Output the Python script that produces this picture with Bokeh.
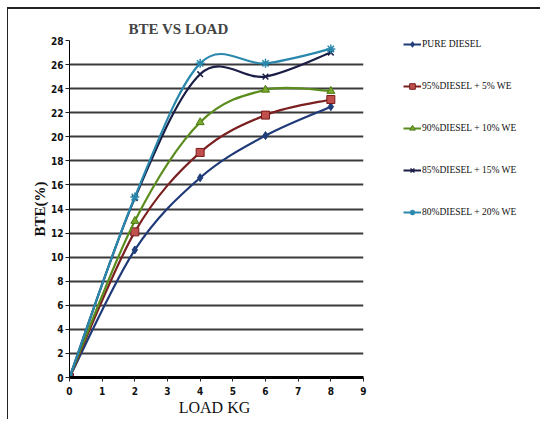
from bokeh.plotting import figure
from bokeh.layouts import row
from bokeh.models import FixedTicker, Legend, LegendItem
from bokeh.embed import file_html
from bokeh.resources import INLINE
import numpy as np

loads = [0, 2, 4, 6, 8]
pure_diesel = [0, 10.6, 16.6, 20.1, 22.5]
d95_we5 = [0, 12.1, 18.7, 21.8, 23.1]
d90_we10 = [0, 13.0, 21.2, 23.9, 23.8]
d85_we15 = [0, 14.9, 25.2, 25.0, 27.0]
d80_we20 = [0, 15.0, 26.1, 26.1, 27.3]
series_names = ["PURE DIESEL", "95%DIESEL + 5% WE", "90%DIESEL + 10% WE",
                "85%DIESEL + 15% WE", "80%DIESEL + 20% WE"]
y_ticks = list(range(0, 29, 2))
x_ticks = list(range(0, 10))

p = figure(width=360, height=410, output_backend="svg", toolbar_location=None,
           x_range=(0, 9), y_range=(0, 28),
           min_border_left=61, min_border_right=5, min_border_top=31, min_border_bottom=42)
p.outline_line_color = None
p.background_fill_color = "white"

p.title.text = "BTE VS LOAD"
p.title.text_font = "Liberation Serif"
p.title.text_font_size = "15px"
p.title.text_font_style = "bold"
p.title.align = "left"
p.title.offset = 59
p.title.standoff = 7

p.xgrid.grid_line_color = None
p.ygrid.grid_line_color = "#3a3a3a"
p.ygrid.grid_line_width = 2
p.yaxis.ticker = FixedTicker(ticks=y_ticks)
p.xaxis.ticker = FixedTicker(ticks=x_ticks)
for ax in (p.xaxis[0], p.yaxis[0]):
    ax.major_label_text_font = "Liberation Sans Narrow, DejaVu Sans Condensed"
    ax.major_label_text_font_style = "bold"
    ax.major_label_text_font_size = "10px"
    ax.major_label_text_color = "#111"
    ax.minor_tick_line_color = None
    ax.major_tick_in = 0
    ax.major_tick_out = 4
    ax.major_tick_line_color = "#222"
    ax.axis_label_text_font = "Liberation Serif"
    ax.axis_label_text_color = "#111"
p.yaxis.axis_label = "BTE(%)"
p.yaxis.axis_label_text_font_style = "bold"
p.yaxis.axis_label_text_font_size = "15px"
p.yaxis.axis_label_standoff = 0
p.yaxis.major_label_standoff = 2
p.yaxis.axis_line_width = 1
p.xaxis.axis_label = "LOAD  KG"
p.xaxis.axis_label_text_font_style = "normal"
p.xaxis.axis_label_text_font_size = "16px"
p.xaxis.axis_label_standoff = 1
p.xaxis.axis_line_width = 3
p.xaxis.major_label_standoff = 5

styles = [
    dict(line="#1f3a78", marker="diamond", size=8, fill="#1f3f7a", mline="#1f3a78", lw=1),
    dict(line="#7a2020", marker="square", size=8, fill="#c0504d", mline="#7b1a1a", lw=1),
    dict(line="#5b8c1e", marker="triangle", size=8, fill="#7aa828", mline="#4e7a1a", lw=1),
    dict(line="#1a1d45", marker="x", size=8, fill=None, mline="#1a1d45", lw=1.5),
    dict(line="#2a88ad", marker="asterisk", size=9, fill=None, mline="#2a88ad", lw=1.5),
]
all_series = [pure_diesel, d95_we5, d90_we10, d85_we15, d80_we20]

# legend-only figure to the right
lf = figure(width=172, height=410, output_backend="svg", toolbar_location=None,
            x_range=(0, 1), y_range=(0, 1), min_border=0)
lf.axis.visible = False
lf.grid.visible = False
lf.outline_line_color = None

items = []
for name, ys, st in zip(series_names, all_series, styles):
    x = np.array(loads, dtype=float)
    y = np.array(ys, dtype=float)
    xp = np.concatenate([[x[0]], x, [x[-1]]])
    yp = np.concatenate([[y[0]], y, [y[-1]]])
    x0, y0 = x[:-1], y[:-1]
    x1, y1 = x[1:], y[1:]
    cx0 = x0 + (xp[2:-1] - xp[:-3]) / 6.0
    cy0 = y0 + (yp[2:-1] - yp[:-3]) / 6.0
    cx1 = x1 - (xp[3:] - xp[1:-2]) / 6.0
    cy1 = y1 - (yp[3:] - yp[1:-2]) / 6.0
    p.bezier(x0=x0, y0=y0, x1=x1, y1=y1, cx0=cx0, cy0=cy0, cx1=cx1, cy1=cy1,
             line_color=st["line"], line_width=2.2)
    p.scatter(x=loads, y=ys, marker=st["marker"], size=st["size"],
              fill_color=st["fill"], line_color=st["mline"], line_width=st["lw"])
    nan = [float("nan")]
    pl = lf.line(x=nan, y=nan, line_color=st["line"], line_width=2)
    ps = lf.scatter(x=nan, y=nan, marker=st["marker"], size=st["size"],
                    fill_color=st["fill"], line_color=st["mline"], line_width=st["lw"])
    items.append(LegendItem(label=name, renderers=[pl, ps]))

legend = Legend(items=items, location=(35, 158), orientation="vertical",
                glyph_width=18, glyph_height=14, label_height=14, spacing=28,
                label_standoff=1, padding=0, margin=0,
                border_line_color=None, background_fill_alpha=0,
                label_text_font="Liberation Serif", label_text_font_size="9.5px",
                label_text_color="#111")
lf.add_layout(legend, "center")

layout = row(p, lf)
layout.styles = {"border-top": "2px solid #222", "border-left": "1px solid #222",
                 "margin-left": "7px", "margin-top": "7px"}
open("out.html", "w").write(file_html(layout, INLINE))
